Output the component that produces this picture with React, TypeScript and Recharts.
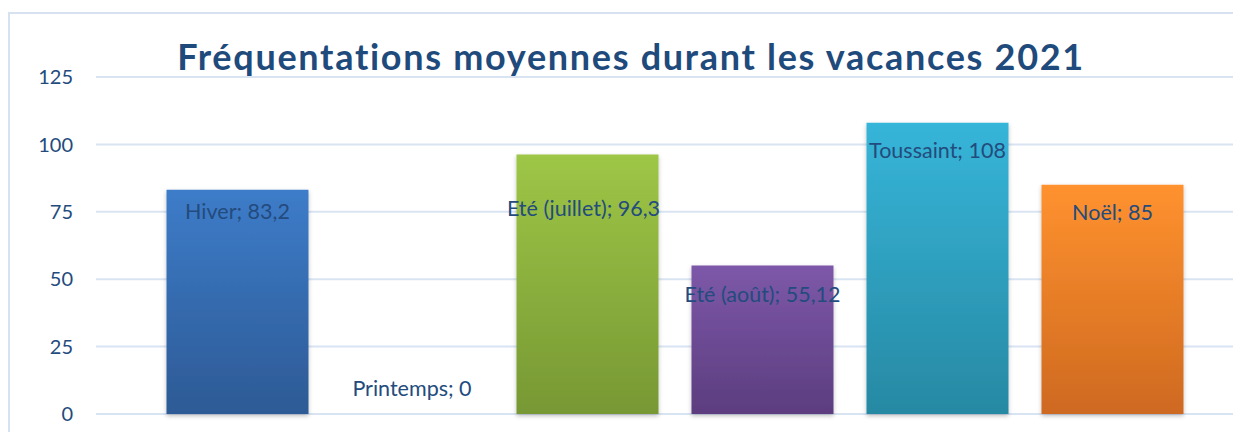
import React from 'react';
import { BarChart, Bar, XAxis, YAxis, CartesianGrid, Cell, LabelList, ReferenceDot } from 'recharts';

const categories = ['Hiver', 'Printemps', 'Eté (juillet)', 'Eté (août)', 'Toussaint', 'Noël'];
const values = [83.2, 0, 96.3, 55.12, 108, 85];
const valueLabels = ['83,2', '0', '96,3', '55,12', '108', '85'];
const yTicks = [0, 25, 50, 75, 100, 125];
const title = 'Fréquentations moyennes durant les vacances 2021';

const gradients = [
  ['#3D7CC9', '#2D5A95'],
  ['#3D7CC9', '#2D5A95'],
  ['#9EC646', '#779834'],
  ['#7D58A9', '#5C3D7F'],
  ['#36B5D9', '#2789A3'],
  ['#FF922F', '#CE6920'],
];
const labelDy = [21, -26, 54, 29, 27, 27];
const labelDx = [0, 0, -4, 0, 0, 0];

const data = categories.map((c, i) => ({ name: c, value: values[i], label: `${c}; ${valueLabels[i]}` }));

const TEXT = '#234B7D';
const FONT = 'Lato, "Noto Sans", sans-serif';
const LABEL_SIZE = 21.5;

const renderLabel = (props: any) => {
  const { x, y, width, value } = props;
  const index = data.findIndex((d) => d.label === value);
  if (index < 0 || values[index] === 0) return null;
  const cx = x + width / 2 + labelDx[index];
  const cy = y + labelDy[index];
  return (
    <text x={cx} y={cy} textAnchor="middle" dominantBaseline="central" fill={TEXT} fontSize={LABEL_SIZE} fontFamily={FONT}>
      {value}
    </text>
  );
};

const makeZeroLabel = (index: number) => (props: any) => {
  const vb = props.viewBox || {};
  const cx = (vb.x ?? 0) + (vb.width ?? 0) / 2 + labelDx[index];
  const cy = (vb.y ?? 0) + (vb.height ?? 0) / 2 + labelDy[index];
  return (
    <text x={cx} y={cy} textAnchor="middle" dominantBaseline="central" fill={TEXT} fontSize={LABEL_SIZE} fontFamily={FONT}>
      {data[index].label}
    </text>
  );
};

export default function App() {
  return (
    <div style={{ position: 'relative', width: 1233, height: 424, overflow: 'hidden', background: '#fff' }}>
      <div
        style={{
          position: 'absolute',
          left: 0,
          top: 4,
          width: 1400,
          height: 600,
          borderLeft: '2px solid #D6E2F2',
          borderTop: '2px solid #D6E2F2',
          boxSizing: 'border-box',
        }}
      />
      <div style={{ position: 'absolute', left: 0, top: 0 }}>
        <BarChart width={1233} height={424} data={data} margin={{ top: 69, right: 0, bottom: 18, left: 0 }}>
          <defs>
            {gradients.map((g, i) => (
              <linearGradient key={i} id={`grad${i}`} x1="0" y1="0" x2="0" y2="1">
                <stop offset="0%" stopColor={g[0]} />
                <stop offset="100%" stopColor={g[1]} />
              </linearGradient>
            ))}
            <filter id="shadow" x="-10%" y="-10%" width="120%" height="120%">
              <feDropShadow dx="0" dy="2" stdDeviation="2" floodColor="#000" floodOpacity="0.25" />
            </filter>
          </defs>
          <CartesianGrid vertical={false} stroke="#D9E4F3" strokeWidth={2} />
          <XAxis dataKey="name" hide padding={{ left: 53.5, right: 41.5 }} />
          <YAxis
            width={88}
            domain={[0, 125]}
            ticks={yTicks}
            axisLine={false}
            tickLine={false}
            tickMargin={17}
            tick={{ fill: TEXT, fontSize: 20, fontFamily: FONT }}
          />
          <Bar dataKey="value" barSize={142} isAnimationActive={false} filter="url(#shadow)">
            {data.map((d, i) => (
              <Cell key={d.name} fill={`url(#grad${i})`} />
            ))}
            <LabelList dataKey="label" content={renderLabel} />
          </Bar>
          {data.map((d, i) =>
            d.value === 0 ? (
              <ReferenceDot
                key={`zero-${d.name}`}
                x={d.name}
                y={0}
                r={0}
                fill="none"
                stroke="none"
                isFront
                label={makeZeroLabel(i)}
              />
            ) : null
          )}
          <text
            x={623}
            y={62}
            textAnchor="middle"
            fill="#1F4A7C"
            fontSize={36}
            fontWeight={700}
            fontFamily={FONT}
            letterSpacing={1.7}
          >
            {title}
          </text>
        </BarChart>
      </div>
    </div>
  );
}
